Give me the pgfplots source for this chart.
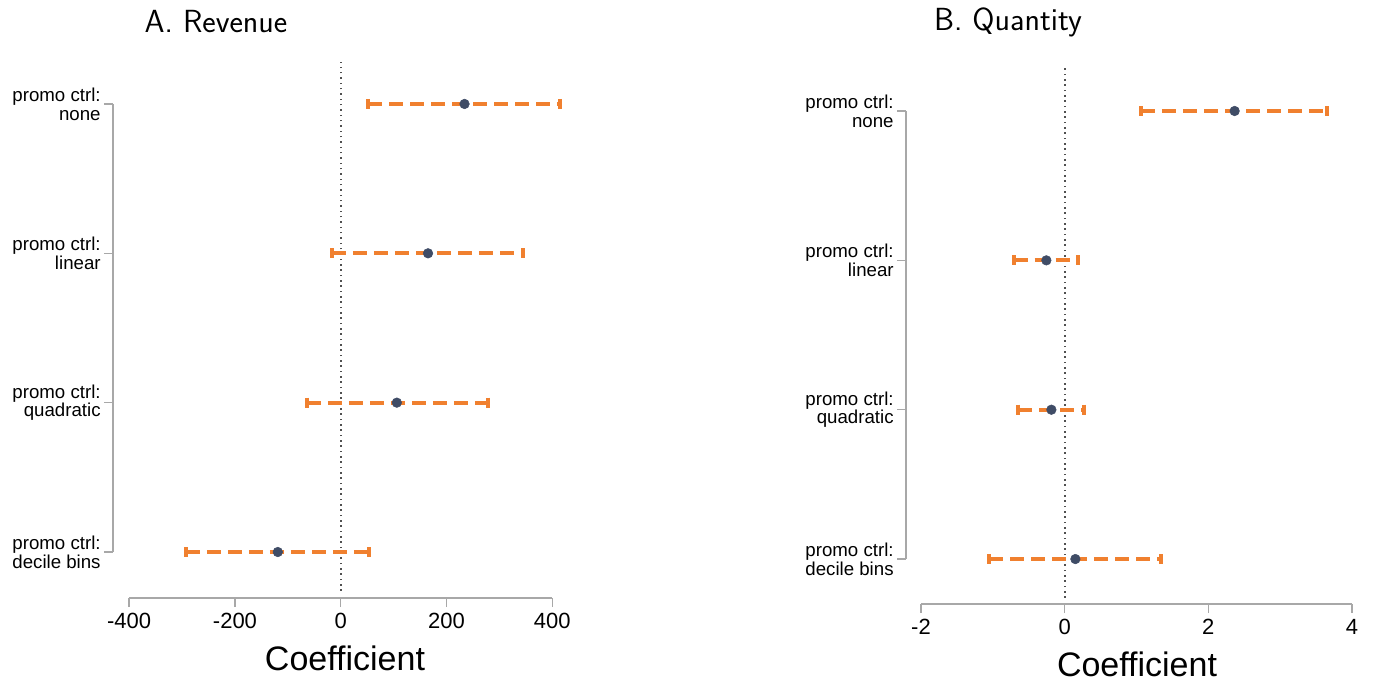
\documentclass[border=0pt]{standalone}
\usepackage{pgfplots}
\pgfplotsset{compat=1.18}
\usepackage{fontspec}
\setmainfont{Liberation Sans}
\definecolor{ciorange}{HTML}{F0802F}
\definecolor{ptcol}{HTML}{3F4C66}
\definecolor{spine}{HTML}{A8A8A8}
\definecolor{zeroline}{HTML}{505050}
\pgfplotsset{
  coefstyle/.style={
    scale only axis,
    clip=false,
    axis x line*=bottom,
    axis y line*=left,
    x axis line style={draw=none},
    y axis line style={draw=none},
    tick align=outside,
    major tick length=6.75pt,
    every tick/.style={draw=spine, line width=1.1pt},
    xticklabel style={font=\fontsize{16.5}{18}\selectfont, yshift=-1pt},
    yticklabel style={font=\fontsize{14}{14.2}\selectfont, align=right, xshift=1pt},
    /pgf/number format/assume math mode=true,
    ytick={0,1,2,3},
    yticklabels={{promo ctrl:\\decile bins},{promo ctrl:\\quadratic},{promo ctrl:\\linear},{promo ctrl:\\none}},
  },
  cibar/.style={ciorange, line width=3pt, dash pattern=on 10.5pt off 5.25pt, mark=|, mark size=3.75pt, mark options={solid, line width=3pt}},
  ptmark/.style={only marks, mark=*, mark size=3.6pt, mark options={ptcol, fill=ptcol, draw=ptcol}},
  zerol/.style={zeroline, line width=1.6pt, dash pattern=on 1.1pt off 2.9pt},
}
\begin{document}
\begin{tikzpicture}
\useasboundingbox (0,0) rectangle (1030.5pt,-510.75pt);
% ---------------- Panel A ----------------
\begin{axis}[coefstyle,
  at={(84.75pt,-448.5pt)}, anchor=south west,
  width=329.5pt, height=402pt,
  xmin=-430.6, xmax=400, ymin=-0.308, ymax=3.281,
  xtick={-400,-200,0,200,400},
]
\addplot[zerol] coordinates {(0,-0.26) (0,3.281)};
\draw[spine, line width=1.1pt] (axis cs:-400,-0.308) -- (axis cs:400,-0.308);
\draw[spine, line width=1.1pt] (axis cs:-430.6,0) -- (axis cs:-430.6,3);
\addplot[cibar] coordinates {(52,3) (414,3)};
\addplot[cibar] coordinates {(-17,2) (344,2)};
\addplot[cibar] coordinates {(-64,1) (278,1)};
\addplot[cibar] coordinates {(-293,0) (53,0)};
\addplot[ptmark] coordinates {(234,3) (165,2) (106,1) (-119,0)};
\end{axis}
% ---------------- Panel B ----------------
\begin{axis}[coefstyle,
  at={(679.5pt,-453pt)}, anchor=south west,
  width=334.5pt, height=402pt,
  xmin=-2.209, xmax=4, ymin=-0.301, ymax=3.288,
  xtick={-2,0,2,4},
]
\addplot[zerol] coordinates {(0,-0.26) (0,3.288)};
\draw[spine, line width=1.1pt] (axis cs:-2,-0.301) -- (axis cs:4,-0.301);
\draw[spine, line width=1.1pt] (axis cs:-2.209,0) -- (axis cs:-2.209,3);
\addplot[cibar] coordinates {(1.064,3) (3.653,3)};
\addplot[cibar] coordinates {(-0.71,2) (0.186,2)};
\addplot[cibar] coordinates {(-0.645,1) (0.274,1)};
\addplot[cibar] coordinates {(-1.05,0) (1.334,0)};
\addplot[ptmark] coordinates {(2.366,3) (-0.255,2) (-0.185,1) (0.149,0)};
\end{axis}
% titles and axis labels
\node[font=\sffamily\fontsize{24}{27}\selectfont] at (216*0.75pt,-22*0.75pt) {A. Revenue};
\node[font=\sffamily\fontsize{24}{27}\selectfont] at (1008*0.75pt,-22*0.75pt) {B. Quantity};
\node[font=\fontsize{25.5}{28}\selectfont] at (345*0.75pt,-658*0.75pt) {Coefficient};
\node[font=\fontsize{25.5}{28}\selectfont] at (1137*0.75pt,-664*0.75pt) {Coefficient};
\end{tikzpicture}
\end{document}
